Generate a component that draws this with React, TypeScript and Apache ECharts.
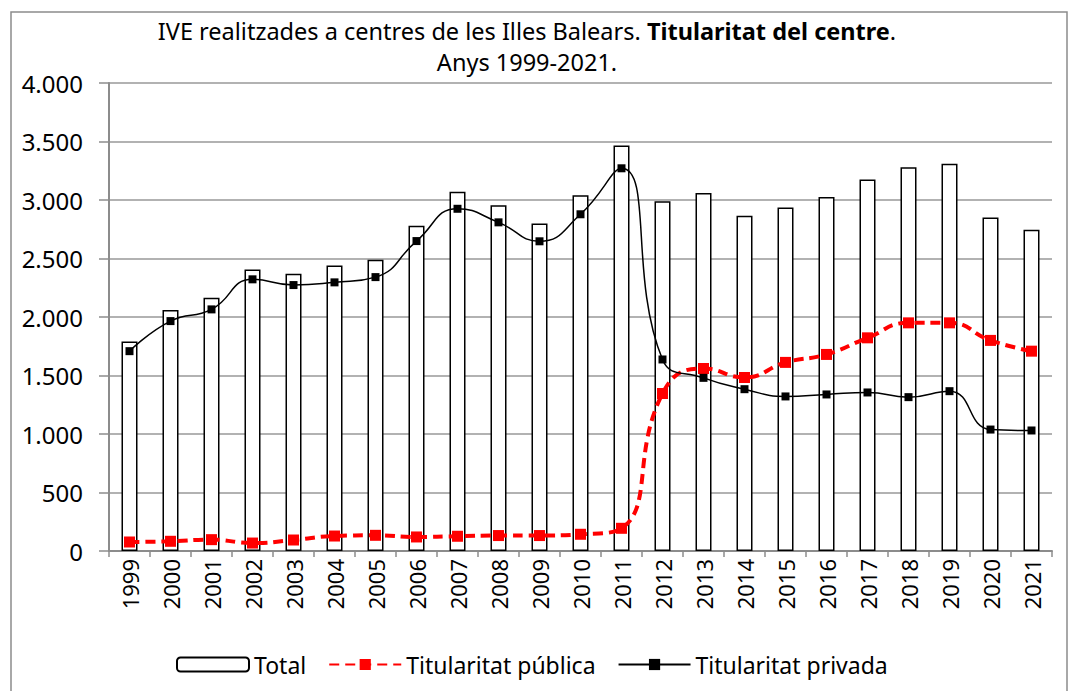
import React, { useEffect, useRef } from "react";
import * as echarts from "echarts";

const years = ["1999","2000","2001","2002","2003","2004","2005","2006","2007","2008","2009","2010","2011","2012","2013","2014","2015","2016","2017","2018","2019","2020","2021"];
const total = [1790,2060,2165,2405,2370,2440,2490,2780,3070,2955,2800,3040,3465,2990,3060,2865,2935,3025,3175,3280,3310,2850,2745];
const publica = [77,83,97,68,94,128,134,120,126,132,132,143,194,1346,1560,1483,1612,1680,1822,1950,1950,1800,1708];
const privada = [1708,1965,2065,2322,2273,2296,2341,2649,2925,2809,2647,2878,3271,1637,1480,1383,1321,1338,1355,1315,1366,1038,1030];

const FONT = "Noto Sans";

export default function App() {
  const ref = useRef<HTMLDivElement>(null);
  useEffect(() => {
    if (!ref.current) return;
    const chart = echarts.init(ref.current, null, { renderer: "svg" });
    const fmt = (v: number) => String(v).replace(/\B(?=(\d{3})+(?!\d))/g, ".");
    chart.setOption({
      animation: false,
      textStyle: { fontFamily: FONT },
      graphic: [
        {
          type: "rect",
          shape: { x: 11, y: 12, width: 1056, height: 700 },
          style: { fill: "none", stroke: "#8c8c8c", lineWidth: 1.5 },
          silent: true,
        },
      ],
      title: {
        left: 522,
        top: 10,
        textAlign: "center",
        text: "{n|IVE realitzades a centres de les Illes Balears. }{b|Titularitat del centre}{n|.}\n{n|Anys 1999-2021.}",
        textStyle: {
          fontWeight: "normal",
          rich: {
            n: { fontFamily: FONT, fontSize: 23.5, color: "#000", fontWeight: "normal", lineHeight: 31 },
            b: { fontFamily: FONT, fontSize: 23.5, color: "#000", fontWeight: "bold", lineHeight: 31 },
          },
        },
      },
      legend: {
        left: 171,
        top: 648,
        itemWidth: 72,
        itemHeight: 14,
        itemGap: 22,
        textStyle: { fontFamily: FONT, fontSize: 23, color: "#000" },
        data: ["Total", "Titularitat pública", "Titularitat privada"],
      },
      grid: { left: 109, right: 18, top: 83, bottom: 140 },
      xAxis: {
        type: "category",
        data: years,
        boundaryGap: true,
        axisLine: { lineStyle: { color: "#8c8c8c", width: 2 } },
        axisTick: { show: true, length: 6, lineStyle: { color: "#8c8c8c", width: 1.5 } },
        axisLabel: { rotate: 90, fontSize: 22, color: "#000", margin: 8, fontFamily: FONT },
      },
      yAxis: {
        type: "value",
        min: 0,
        max: 4000,
        interval: 500,
        axisLine: { show: true, lineStyle: { color: "#8c8c8c", width: 2 } },
        axisTick: { show: true, length: 10, lineStyle: { color: "#8c8c8c", width: 1.5 } },
        splitLine: { lineStyle: { color: "#999", width: 1.5 } },
        axisLabel: { fontSize: 24, color: "#000", margin: 26, formatter: fmt, fontFamily: FONT },
      },
      series: [
        {
          name: "Total",
          type: "bar",
          data: total,
          barWidth: 16,
          itemStyle: { color: "#fff", borderColor: "#000", borderWidth: 1.5 },
        },
        {
          name: "Titularitat pública",
          type: "line",
          data: publica,
          smooth: 0.5,
          symbol: "rect",
          symbolSize: 11,
          itemStyle: { color: "#ff0000" },
          lineStyle: { color: "#ff0000", width: 4, type: [10, 6] },
        },
        {
          name: "Titularitat privada",
          type: "line",
          data: privada,
          smooth: 0.5,
          symbol: "rect",
          symbolSize: 8,
          itemStyle: { color: "#000" },
          lineStyle: { color: "#000", width: 1.5 },
        },
      ],
    });
    return () => chart.dispose();
  }, []);
  return (
    <div
      ref={ref}
      style={{ position: "absolute", left: 0, top: 0, width: 1070, height: 691, background: "#fff" }}
    />
  );
}
